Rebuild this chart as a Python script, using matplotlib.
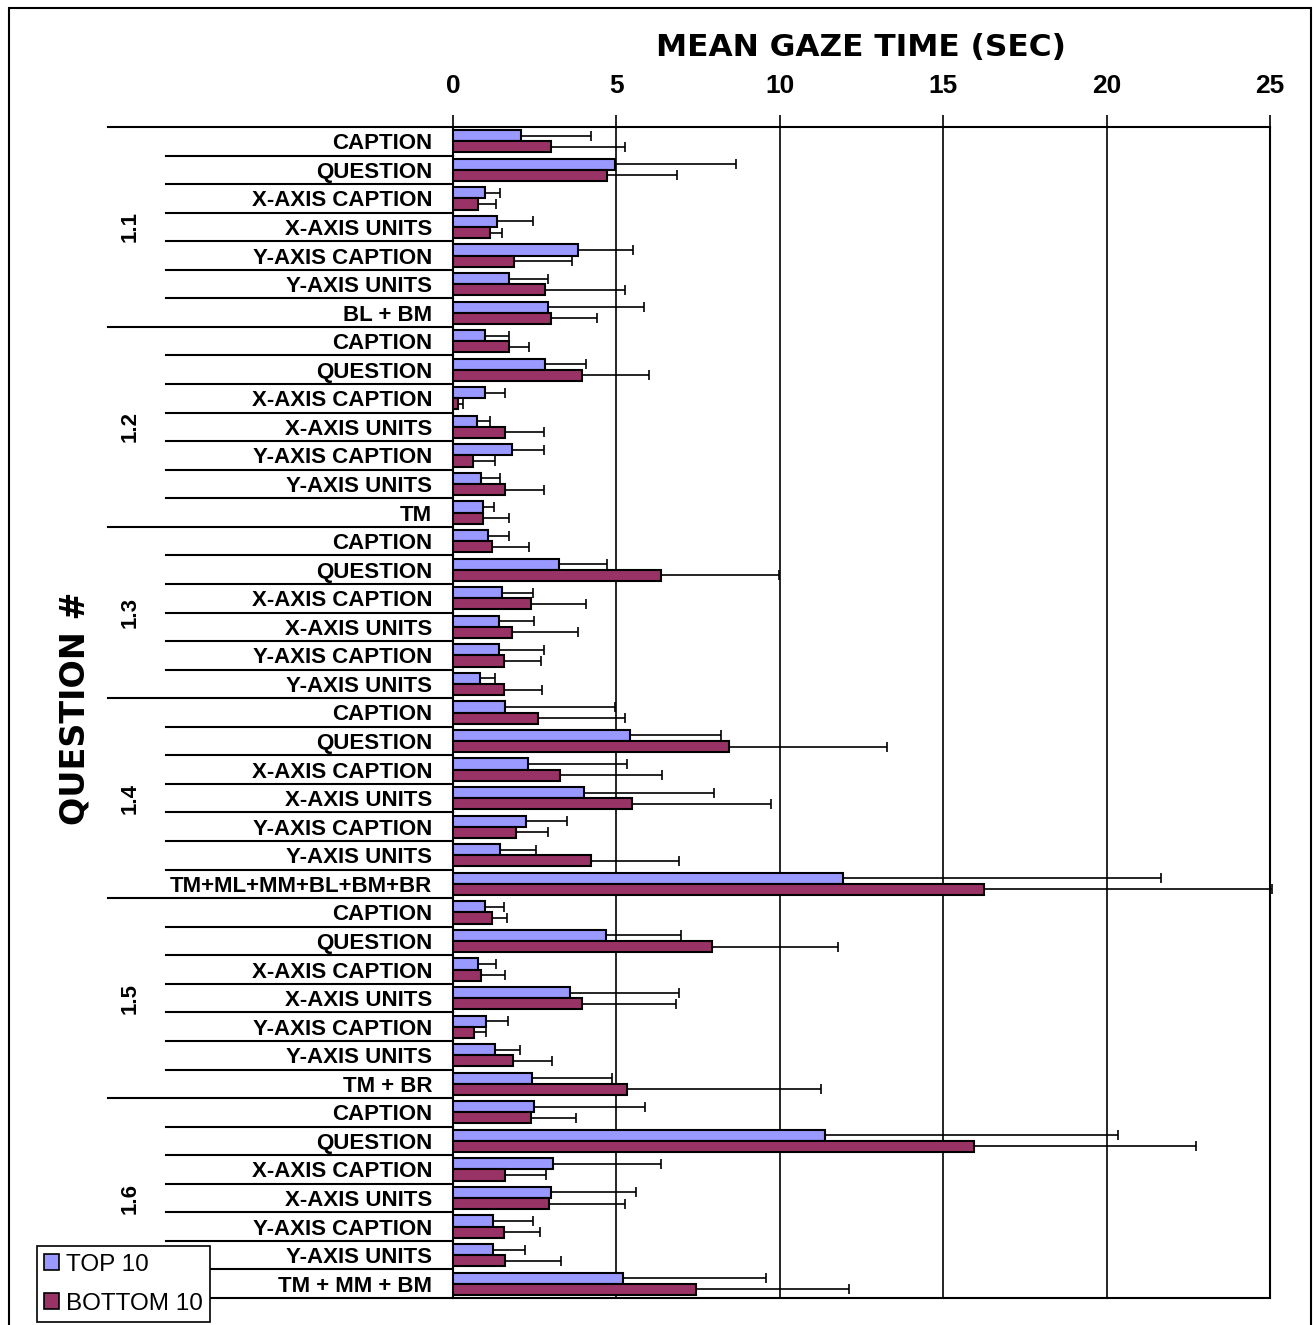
import matplotlib
matplotlib.use("Agg")
from matplotlib import pyplot as plt
from matplotlib.patches import Patch, Rectangle
from matplotlib.transforms import blended_transform_factory
import numpy as np


## DATA ##
groups = ["1.1", "1.2", "1.3", "1.4", "1.5", "1.6"]
group_items = [
    ["CAPTION", "QUESTION", "X-AXIS CAPTION", "X-AXIS UNITS", "Y-AXIS CAPTION", "Y-AXIS UNITS", "BL + BM"],
    ["CAPTION", "QUESTION", "X-AXIS CAPTION", "X-AXIS UNITS", "Y-AXIS CAPTION", "Y-AXIS UNITS", "TM"],
    ["CAPTION", "QUESTION", "X-AXIS CAPTION", "X-AXIS UNITS", "Y-AXIS CAPTION", "Y-AXIS UNITS"],
    ["CAPTION", "QUESTION", "X-AXIS CAPTION", "X-AXIS UNITS", "Y-AXIS CAPTION", "Y-AXIS UNITS", "TM+ML+MM+BL+BM+BR"],
    ["CAPTION", "QUESTION", "X-AXIS CAPTION", "X-AXIS UNITS", "Y-AXIS CAPTION", "Y-AXIS UNITS", "TM + BR"],
    ["CAPTION", "QUESTION", "X-AXIS CAPTION", "X-AXIS UNITS", "Y-AXIS CAPTION", "Y-AXIS UNITS", "TM + MM + BM"],
]

top10_mean = [
    2.08, 4.96, 0.97, 1.34, 3.81, 1.71, 2.90,
    0.97, 2.82, 0.97, 0.73, 1.81, 0.86, 0.93,
    1.08, 3.23, 1.51, 1.40, 1.40, 0.82,
    1.60, 5.42, 2.29, 4.01, 2.23, 1.45, 11.93,
    0.97, 4.69, 0.75, 3.57, 1.02, 1.27, 2.43,
    2.49, 11.38, 3.06, 3.01, 1.22, 1.22, 5.20,
]
top10_sd = [
    2.15, 3.70, 0.47, 1.10, 1.71, 1.21, 2.95,
    0.73, 1.25, 0.63, 0.41, 0.96, 0.58, 0.32,
    0.63, 1.47, 0.93, 1.08, 1.37, 0.47,
    3.36, 2.77, 3.04, 3.98, 1.26, 1.08, 9.74,
    0.58, 2.28, 0.57, 3.36, 0.67, 0.78, 2.44,
    3.39, 8.97, 3.32, 2.59, 1.23, 0.99, 4.39,
]
bottom10_mean = [
    3.01, 4.70, 0.78, 1.14, 1.88, 2.82, 3.01,
    1.71, 3.96, 0.14, 1.60, 0.62, 1.60, 0.93,
    1.19, 6.36, 2.40, 1.81, 1.56, 1.56,
    2.60, 8.45, 3.27, 5.48, 1.92, 4.22, 16.25,
    1.18, 7.93, 0.86, 3.95, 0.64, 1.85, 5.31,
    2.40, 15.94, 1.60, 2.95, 1.55, 1.60, 7.45,
]
bottom10_sd = [
    2.26, 2.14, 0.55, 0.37, 1.76, 2.45, 1.41,
    0.62, 2.04, 0.16, 1.17, 0.67, 1.17, 0.77,
    1.14, 3.63, 1.67, 2.00, 1.14, 1.15,
    2.65, 4.82, 3.14, 4.26, 0.98, 2.69, 8.81,
    0.47, 3.84, 0.74, 2.87, 0.36, 1.19, 5.96,
    1.35, 6.80, 1.24, 2.32, 1.11, 1.72, 4.67,
]
series_names = ["TOP 10", "BOTTOM 10"]
xticks = [0, 5, 10, 15, 20, 25]


## PLOT ##
W, H = 1314, 1325
fig = plt.figure(figsize=(W / 100, H / 100), dpi=100)
ax = fig.add_axes([453 / W, 1 - 1298 / H, (1270 - 453) / W, (1298 - 127) / H])

labels = [lab for items in group_items for lab in items]
n = len(labels)
y = np.arange(n)
bh = 0.39

blue = "#9999FF"
red = "#993366"

ax.barh(y - bh / 2, top10_mean, height=bh, color=blue, edgecolor="black", lw=1.5, zorder=3)
ax.barh(y + bh / 2, bottom10_mean, height=bh, color=red, edgecolor="black", lw=1.5, zorder=3)
ax.errorbar(top10_mean, y - bh / 2, xerr=[np.zeros(n), top10_sd], fmt="none",
            ecolor="black", elinewidth=1.2, capsize=3.8, capthick=1.2, zorder=2, clip_on=False)
ax.errorbar(bottom10_mean, y + bh / 2, xerr=[np.zeros(n), bottom10_sd], fmt="none",
            ecolor="black", elinewidth=1.2, capsize=3.8, capthick=1.2, zorder=2, clip_on=False)

ax.set_xlim(0, 25)
ax.set_ylim(n - 0.5, -0.5)
ax.set_xticks(xticks)
ax.xaxis.tick_top()
ax.tick_params(axis="x", direction="out", length=9, width=1.2, pad=12, labelsize=19)
for t in ax.get_xticklabels():
    t.set_fontweight("bold")
    t.set_fontfamily("Liberation Sans")
ax.grid(axis="x", color="black", lw=1.2, zorder=1)
ax.set_yticks(y)
ax.set_yticklabels(labels, fontsize=16, fontweight="bold", family="Liberation Sans")
ax.tick_params(axis="y", length=0, pad=15)
for s in ax.spines.values():
    s.set_linewidth(1.5)

# separators and group labels in the label area
tr = blended_transform_factory(fig.transFigure, ax.transData)
starts = np.cumsum([0] + [len(items) for items in group_items])
for k in range(n + 1):
    x0 = 108 if k in starts else 166
    ax.plot([x0 / W, 453 / W], [k - 0.5, k - 0.5], color="black", lw=1.5,
            transform=tr, clip_on=False)
for g, a, b in zip(groups, starts[:-1], starts[1:]):
    ax.text(130 / W, (a + b - 1) / 2, g, transform=tr, rotation=90, ha="center", va="center",
            fontsize=16, fontweight="bold", family="Liberation Sans")

fig.text(861 / W, 1 - 48 / H, "MEAN GAZE TIME (SEC)", ha="center", va="center",
         fontsize=22.5, fontweight="bold", family="DejaVu Sans")
fig.text(75 / W, 1 - 708 / H, "QUESTION #", rotation=90, ha="center", va="center",
         fontsize=24, fontweight="bold", family="DejaVu Sans")

fig.patches.append(Rectangle((9 / W, -0.01), (1311 - 9) / W, 1.01 - 8 / H, transform=fig.transFigure,
                             fill=False, edgecolor="black", lw=1.5))

handles = [Patch(facecolor=blue, edgecolor="black", lw=1.2),
           Patch(facecolor=red, edgecolor="black", lw=1.2)]
leg = fig.legend(handles, series_names, loc="lower left", bbox_to_anchor=(37 / W, 3 / H),
                 borderaxespad=0, fancybox=False, framealpha=1, edgecolor="black",
                 prop={"family": "Liberation Sans", "size": 17.5}, handlelength=0.6, handleheight=0.6,
                 handletextpad=0.3, borderpad=0.3, labelspacing=0.7)
leg.get_frame().set_linewidth(1.2)

fig.savefig("out.png", dpi=100)
